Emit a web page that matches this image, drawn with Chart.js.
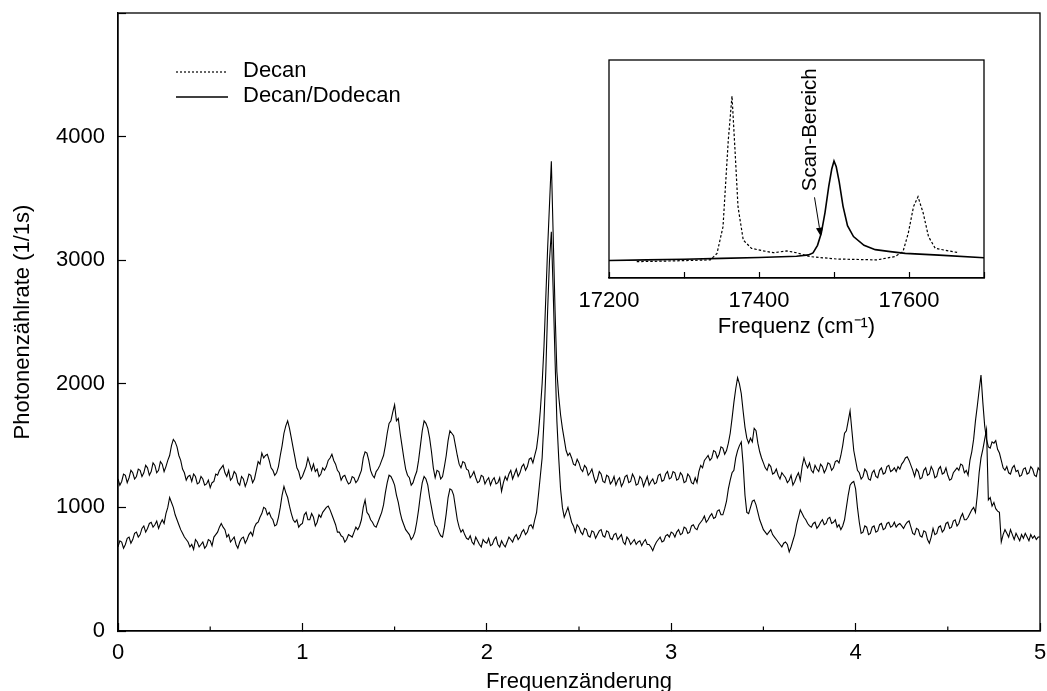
<!DOCTYPE html>
<html>
<head>
<meta charset="utf-8">
<script src="https://cdn.jsdelivr.net/npm/chart.js@4.4.0/dist/chart.umd.min.js"></script>
<style>
  body { margin: 0; background: #fff; }
  #wrap { position: relative; width: 1047px; height: 691px; }
  canvas { display: block; }
  #insetChart { position: absolute; left: 540px; top: 40px; }
</style>
</head>
<body>
<div id="wrap">
  <canvas id="mainChart" width="1047" height="691"></canvas>
  <canvas id="insetChart" width="480" height="320"></canvas>
</div>
<script>
// main plot: count rate vs. frequency shift, one value every 0.01
var shiftStep = 0.01;
var upperRate = [
  1230,1180,1210,1270,1260,1200,1240,1300,1280,1230,
  1250,1310,1300,1250,1280,1340,1320,1260,1290,1360,
  1340,1280,1300,1370,1350,1290,1330,1380,1420,1500,
  1550,1530,1490,1420,1380,1310,1280,1220,1250,1260,
  1210,1270,1250,1190,1200,1250,1230,1180,1190,1220,
  1160,1200,1210,1270,1260,1300,1320,1340,1280,1250,
  1300,1220,1240,1290,1270,1200,1180,1250,1230,1170,
  1210,1270,1260,1200,1230,1300,1370,1350,1440,1400,
  1420,1430,1380,1320,1300,1260,1280,1330,1420,1500,
  1600,1660,1700,1640,1560,1480,1400,1320,1290,1230,
  1250,1290,1330,1400,1350,1300,1350,1290,1310,1250,
  1270,1320,1300,1330,1380,1400,1430,1380,1350,1300,
  1280,1220,1250,1260,1220,1190,1200,1250,1240,1200,
  1220,1260,1300,1400,1450,1440,1380,1300,1260,1240,
  1290,1310,1340,1380,1420,1500,1600,1680,1700,1770,
  1830,1700,1720,1600,1500,1400,1310,1260,1240,1180,
  1200,1250,1290,1380,1500,1620,1700,1680,1640,1560,
  1450,1320,1240,1300,1290,1230,1250,1330,1420,1540,
  1620,1600,1580,1500,1420,1350,1320,1370,1360,1310,
  1300,1240,1260,1290,1240,1200,1210,1260,1250,1190,
  1220,1240,1180,1220,1240,1190,1200,1240,1130,1200,
  1250,1220,1270,1300,1230,1270,1310,1250,1280,1330,
  1350,1300,1330,1390,1400,1360,1420,1480,1600,1780,
  2000,2300,2700,3100,3450,3800,3200,2600,2100,1900,
  1750,1640,1550,1460,1420,1440,1400,1350,1340,1390,
  1360,1310,1290,1340,1320,1260,1280,1310,1250,1200,
  1230,1290,1270,1210,1200,1260,1250,1190,1210,1250,
  1180,1220,1240,1170,1200,1250,1260,1200,1210,1270,
  1240,1180,1190,1250,1230,1170,1210,1250,1180,1210,
  1230,1190,1200,1260,1270,1210,1220,1270,1290,1230,
  1240,1290,1280,1220,1230,1280,1260,1200,1210,1270,
  1250,1200,1190,1240,1200,1290,1340,1320,1380,1400,
  1420,1380,1400,1460,1450,1400,1430,1490,1480,1430,
  1460,1520,1600,1720,1850,1960,2050,2000,1920,1780,
  1650,1560,1520,1560,1530,1640,1620,1520,1450,1400,
  1360,1320,1300,1350,1330,1270,1280,1310,1260,1230,
  1280,1260,1240,1200,1220,1260,1180,1210,1250,1280,
  1220,1330,1400,1350,1320,1360,1300,1280,1340,1310,
  1290,1350,1330,1280,1310,1360,1350,1300,1320,1370,
  1380,1360,1420,1500,1600,1620,1700,1780,1620,1460,
  1380,1300,1280,1230,1250,1310,1290,1230,1220,1280,
  1300,1250,1240,1300,1320,1270,1280,1330,1340,1290,
  1300,1320,1290,1330,1310,1350,1370,1400,1410,1380,
  1340,1300,1250,1310,1290,1230,1240,1300,1320,1260,
  1270,1330,1300,1240,1250,1310,1330,1270,1280,1320,
  1260,1220,1230,1280,1300,1320,1300,1350,1340,1280,
  1300,1260,1380,1450,1550,1700,1820,1950,2070,1850,
  1660,1550,1490,1480,1530,1520,1540,1470,1440,1380,
  1320,1300,1330,1280,1270,1320,1340,1290,1300,1250,
  1260,1310,1320,1270,1280,1330,1310,1260,1250,1320,
  1300
];
var lowerRate = [
  680,730,720,670,700,750,760,710,740,790,
  800,760,780,830,850,800,830,870,880,840,
  860,890,830,870,900,870,950,1000,1080,1040,
  1000,940,900,860,820,790,760,740,720,680,
  700,660,740,720,680,700,720,670,690,740,
  730,690,760,780,800,840,870,840,820,760,
  780,720,740,760,700,670,720,750,760,710,
  740,780,800,770,840,870,880,920,950,1000,
  990,940,960,920,900,850,860,920,1000,1100,
  1170,1120,1080,1010,950,900,880,900,840,860,
  870,940,960,900,900,950,920,850,880,940,
  920,960,980,1000,1010,980,940,900,860,800,
  800,770,760,720,740,780,770,760,800,840,
  820,850,900,1000,1060,960,940,900,880,850,
  840,880,920,960,1020,1120,1200,1260,1250,1220,
  1180,1100,1040,960,900,860,820,800,780,740,
  760,800,880,980,1100,1200,1250,1230,1180,1080,
  1000,920,860,840,800,770,760,840,950,1080,
  1150,1140,1100,1000,900,840,800,820,780,750,
  740,770,720,700,760,730,700,680,740,720,
  710,750,690,700,740,760,700,680,730,700,
  680,720,760,740,720,760,780,740,760,800,
  820,780,800,850,860,830,900,960,1100,1250,
  1400,1700,2100,2600,3000,3230,2750,2200,1700,1400,
  1150,1000,920,960,1000,940,880,850,800,860,
  840,800,780,830,820,770,760,810,800,750,
  780,810,820,770,760,810,800,750,740,780,
  790,740,760,780,720,700,760,740,700,720,
  740,700,720,730,690,720,740,700,700,680,
  650,690,720,740,760,720,730,770,780,760,
  800,790,760,800,820,780,790,840,830,790,
  800,850,860,830,820,860,880,900,930,880,
  900,930,950,910,920,970,980,940,940,990,
  1050,1150,1220,1280,1300,1400,1460,1500,1530,1350,
  1100,960,950,1000,1050,1060,1020,960,900,860,
  820,800,780,800,820,780,760,740,720,700,
  680,710,720,700,640,680,730,780,860,920,
  980,950,920,900,870,850,840,870,880,830,
  850,880,900,860,870,910,920,870,880,900,
  840,860,820,850,900,1000,1100,1180,1200,1210,
  1150,1000,880,790,800,850,840,780,790,840,
  850,800,810,860,870,820,830,870,880,840,
  850,880,840,860,870,850,830,860,880,890,
  840,790,780,830,820,770,760,810,800,740,
  710,760,830,780,790,840,850,800,820,870,
  880,830,840,890,900,850,870,920,950,900,
  900,920,950,980,1000,960,1100,1280,1400,1470,
  1550,1630,1060,1080,1010,1040,990,970,960,720,
  780,820,790,760,820,780,740,790,760,730,
  780,750,790,760,730,780,750,770,740,760,
  760
];
var minorTicksX = [0.5, 1.5, 2.5, 3.5, 4.5];

// inset: spectra (arb. units)
var decanFreq   = [17237,17280,17335,17344,17352,17359,17364,17368,17372,17379,17390,17405,17419,17437,17450,17468,17504,17557,17581,17592,17599,17606,17612,17619,17626,17635,17666];
var decanSignal = [7.5,7.8,8.3,11.3,23.5,63,83.5,58.7,32.7,17.4,13.6,12.5,11.6,12.4,11.6,9.8,8.7,8.3,9.8,12.1,20.5,32.7,37.3,29.7,19,13.6,11.6];
var mixFreq   = [17200,17250,17300,17350,17400,17450,17466,17472,17478,17483,17488,17493,17497,17500,17503,17507,17512,17518,17526,17540,17555,17575,17595,17640,17700];
var mixSignal = [8.0,8.3,8.6,9.0,9.4,10.0,10.6,11.5,15,20.5,30,42,50,53.7,51,44,33,24,19,15,13,12.1,11.3,10.5,9.3];
var insetLabels = [17200, 17400, 17600];

var scanLabelAt = [17468, 68];
var scanArrow = [[17474, 37], [17482.5, 19]];

var fontFamily = '"Liberation Sans", Arial, Helvetica, sans-serif';
var font = { family: fontFamily, size: 22 };
Chart.defaults.color = '#000';
Chart.defaults.font.family = fontFamily;

function toPoints(arr) {
  return arr.map(function (v, i) { return { x: +(i * shiftStep).toFixed(2), y: v }; });
}
function pairs(xs, ys) {
  return xs.map(function (x, i) { return { x: x, y: ys[i] }; });
}

var mainDecor = {
  id: 'mainDecor',
  afterDraw: function (chart) {
    var ctx = chart.ctx, a = chart.chartArea, sx = chart.scales.x;
    ctx.save();
    ctx.strokeStyle = '#000';
    ctx.lineWidth = 1.3;
    ctx.strokeRect(a.left, a.top, a.right - a.left, a.bottom - a.top);
    ctx.lineWidth = 1.2;
    minorTicksX.forEach(function (v) {
      var px = sx.getPixelForValue(v);
      ctx.beginPath();
      ctx.moveTo(px, a.bottom);
      ctx.lineTo(px, a.bottom - 4.5);
      ctx.stroke();
    });
    // legend (refers to the line styles of the inset)
    var lx = a.left + 58, ly = a.top + 59;
    ctx.font = '22px ' + fontFamily;
    ctx.fillStyle = '#000';
    ctx.textBaseline = 'middle';
    ctx.lineWidth = 1.2;
    ctx.setLineDash([2, 2]);
    ctx.beginPath(); ctx.moveTo(lx, ly); ctx.lineTo(lx + 52, ly); ctx.stroke();
    ctx.setLineDash([]);
    ctx.fillText('Decan', lx + 67, ly - 1);
    ctx.lineWidth = 1.5;
    ctx.beginPath(); ctx.moveTo(lx, ly + 25); ctx.lineTo(lx + 52, ly + 25); ctx.stroke();
    ctx.fillText('Decan/Dodecan', lx + 67, ly + 24);
    ctx.restore();
  }
};

new Chart(document.getElementById('mainChart'), {
  type: 'line',
  data: {
    datasets: [
      { label: 'Decan/Dodecan', data: toPoints(upperRate), borderColor: '#000', borderWidth: 1.1, pointRadius: 0, tension: 0 },
      { label: 'Decan', data: toPoints(lowerRate), borderColor: '#000', borderWidth: 1.1, pointRadius: 0, tension: 0 }
    ]
  },
  options: {
    responsive: false,
    animation: false,
    layout: { padding: { top: 13, right: 7, left: 0, bottom: 0 } },
    plugins: { legend: { display: false }, tooltip: { enabled: false } },
    scales: {
      x: {
        type: 'linear', min: 0, max: 5,
        ticks: { stepSize: 1, padding: 17, font: font, color: '#000', autoSkip: false, maxRotation: 0,
          callback: function (v) { return String(v); } },
        grid: { drawOnChartArea: false, tickLength: -8, color: '#000', tickWidth: 1.2 },
        border: { color: '#000', width: 1.3 },
        title: { display: true, text: 'Frequenzänderung', font: { family: fontFamily, size: 22, lineHeight: 1 }, color: '#000', padding: { top: 0, bottom: -2 } },
        afterFit: function (s) { s.height = 60; s.paddingLeft = 0; s.paddingRight = 0; }
      },
      y: {
        min: 0, max: 5000,
        ticks: { stepSize: 1000, padding: 21, font: font, color: '#000',
          callback: function (v) { return v === 5000 ? '' : String(v); } },
        grid: { drawOnChartArea: false, tickLength: -8, color: '#000', tickWidth: 1.2 },
        border: { color: '#000', width: 1.3 },
        title: { display: true, text: 'Photonenzählrate (1/1s)', font: font, color: '#000', padding: { top: 10, bottom: 0 } },
        afterFit: function (s) { s.width = 118; s.paddingTop = 0; s.paddingBottom = 0; }
      }
    }
  },
  plugins: [mainDecor]
});

var insetDecor = {
  id: 'insetDecor',
  afterDraw: function (chart) {
    var ctx = chart.ctx, a = chart.chartArea, sx = chart.scales.x, sy = chart.scales.y;
    ctx.save();
    ctx.strokeStyle = '#000';
    ctx.lineWidth = 1.3;
    ctx.strokeRect(a.left, a.top, a.right - a.left, a.bottom - a.top);

    ctx.save();
    ctx.translate(sx.getPixelForValue(scanLabelAt[0]), sy.getPixelForValue(scanLabelAt[1]));
    ctx.rotate(-Math.PI / 2);
    ctx.font = '20.5px ' + fontFamily;
    ctx.fillStyle = '#000';
    ctx.textAlign = 'center';
    ctx.textBaseline = 'middle';
    ctx.fillText('Scan-Bereich', 0, 0);
    ctx.restore();

    var x1 = sx.getPixelForValue(scanArrow[0][0]), y1 = sy.getPixelForValue(scanArrow[0][1]);
    var x2 = sx.getPixelForValue(scanArrow[1][0]), y2 = sy.getPixelForValue(scanArrow[1][1]);
    var ang = Math.atan2(y2 - y1, x2 - x1), hl = 9, hw = 3.5;
    ctx.lineWidth = 1;
    ctx.beginPath(); ctx.moveTo(x1, y1); ctx.lineTo(x2 - hl * Math.cos(ang), y2 - hl * Math.sin(ang)); ctx.stroke();
    ctx.beginPath();
    ctx.moveTo(x2, y2);
    ctx.lineTo(x2 - hl * Math.cos(ang) + hw * Math.sin(ang), y2 - hl * Math.sin(ang) - hw * Math.cos(ang));
    ctx.lineTo(x2 - hl * Math.cos(ang) - hw * Math.sin(ang), y2 - hl * Math.sin(ang) + hw * Math.cos(ang));
    ctx.closePath();
    ctx.fillStyle = '#000';
    ctx.fill();
    ctx.restore();
  }
};

new Chart(document.getElementById('insetChart'), {
  type: 'line',
  data: {
    datasets: [
      { label: 'Decan', data: pairs(decanFreq, decanSignal), borderColor: '#000', borderWidth: 1.2, borderDash: [2.5, 2], pointRadius: 0, tension: 0 },
      { label: 'Decan/Dodecan', data: pairs(mixFreq, mixSignal), borderColor: '#000', borderWidth: 1.6, pointRadius: 0, tension: 0 }
    ]
  },
  options: {
    responsive: false,
    animation: false,
    layout: { padding: { left: 69, right: 36, top: 20, bottom: 0 } },
    plugins: { legend: { display: false }, tooltip: { enabled: false } },
    scales: {
      x: {
        type: 'linear', min: 17200, max: 17700,
        ticks: { stepSize: 100, padding: 16, font: font, color: '#000', autoSkip: false, maxRotation: 0,
          callback: function (v) { return insetLabels.indexOf(v) >= 0 ? String(v) : ''; } },
        grid: { drawOnChartArea: false, tickLength: -6, color: '#000', tickWidth: 1.2 },
        border: { color: '#000', width: 1.3 },
        title: { display: true, text: 'Frequenz (cm⁻¹)', font: font, color: '#000', padding: { top: 0, bottom: 20 } },
        afterFit: function (s) { s.height = 82; }
      },
      y: { display: false, min: 0, max: 100 }
    }
  },
  plugins: [insetDecor]
});
</script>
</body>
</html>
